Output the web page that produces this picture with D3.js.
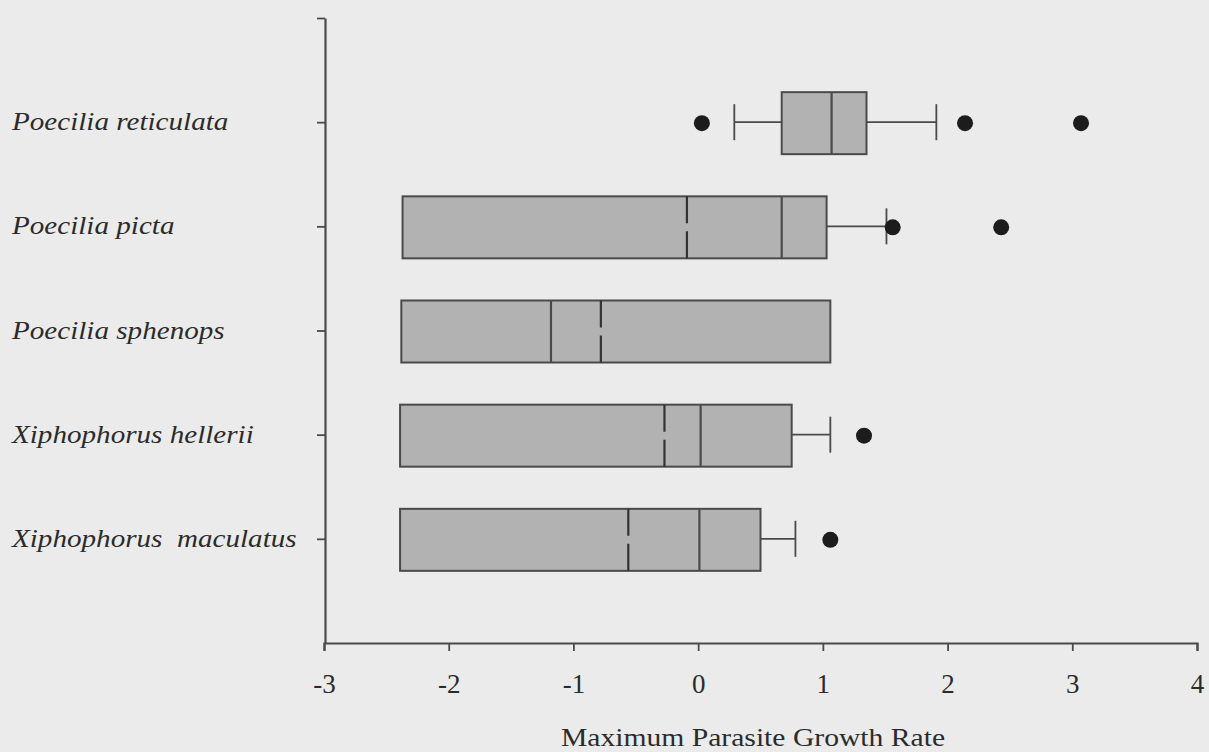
<!DOCTYPE html>
<html>
<head>
<meta charset="utf-8">
<script src="https://cdn.jsdelivr.net/npm/d3@7"></script>
<style>
  html, body { margin: 0; padding: 0; background: #ebebeb; }
  svg { display: block; }
  text { font-family: "Liberation Serif", "Times New Roman", serif; fill: #2b2b2b; }
</style>
</head>
<body>
<svg id="chart" width="1209" height="752"></svg>
<script>
// ---- data ----
const categories = ["Poecilia reticulata", "Poecilia picta", "Poecilia sphenops", "Xiphophorus hellerii", "Xiphophorus  maculatus"];
const q1          = [0.67, -2.37, -2.38, -2.39, -2.39];
const medians     = [1.07,  0.67, -1.18,  0.02,  0.01];
const q3          = [1.35,  1.03,  1.06,  0.75,  0.50];
const whiskerLow  = [0.29, -2.37, -2.38, -2.39, -2.39];
const whiskerHigh = [1.91,  1.51,  1.06,  1.06,  0.78];
const means       = [null, -0.09, -0.78, -0.27, -0.56];
const outliers    = [[0.03, 2.14, 3.07], [1.56, 2.43], [], [1.33], [1.06]];
const xTicks      = [-3, -2, -1, 0, 1, 2, 3, 4];
const xTitle      = "Maximum Parasite Growth Rate";

const rows = categories.map((c, i) => ({
  name: c, q1: q1[i], med: medians[i], q3: q3[i],
  lo: whiskerLow[i], hi: whiskerHigh[i], mean: means[i], out: outliers[i], pos: i + 1
}));

const svg = d3.select("#chart");
const x = d3.scaleLinear().domain([-3, 4]).range([324, 1197]);
const y = d3.scaleLinear().domain([0, 6]).range([18, 643]);

const boxH = 62, capH = 36;
const stroke = "#4a4a4a";

// axes
const xAxis = svg.append("g").attr("transform", `translate(0,${y(6)})`)
  .call(d3.axisBottom(x).tickValues(xTicks).tickSize(8).tickPadding(0).tickFormat(d => String(d)));
xAxis.select(".domain").attr("stroke", stroke).attr("stroke-width", 2.2);
xAxis.selectAll(".tick line").attr("stroke", stroke).attr("stroke-width", 1.8);
xAxis.selectAll(".tick text")
  .attr("y", 50).attr("dy", null)
  .attr("font-size", 27).attr("font-family", "Liberation Serif, serif").attr("fill", "#2b2b2b");

const yAxis = svg.append("g").attr("transform", `translate(${x(-3) + 1},0)`)
  .call(d3.axisLeft(y).tickValues([0, 1, 2, 3, 4, 5]).tickSize(8).tickSizeOuter(0).tickFormat(""));
yAxis.select(".domain").attr("stroke", stroke).attr("stroke-width", 2.2);
yAxis.selectAll(".tick line").attr("stroke", stroke).attr("stroke-width", 1.8);

// category labels (left aligned, italic)
svg.append("g").selectAll("text").data(rows).join("text")
  .attr("transform", d => `translate(12,${y(d.pos) + 8}) scale(1.12,1)`)
  .attr("font-size", 26).attr("font-style", "italic")
  .style("white-space", "pre")
  .text(d => d.name);

// x title
svg.append("text")
  .attr("transform", `translate(${(561 + 945) / 2},746) scale(1.14,1)`)
  .attr("text-anchor", "middle").attr("font-size", 26)
  .text(xTitle);

// boxes
const g = svg.append("g");
const rowG = g.selectAll("g.row").data(rows).join("g").attr("class", "row");

// whiskers
rowG.filter(d => d.lo < d.q1).append("line")
  .attr("x1", d => x(d.lo)).attr("x2", d => x(d.q1))
  .attr("y1", d => y(d.pos)).attr("y2", d => y(d.pos))
  .attr("stroke", stroke).attr("stroke-width", 1.6);
rowG.filter(d => d.lo < d.q1).append("line")
  .attr("x1", d => x(d.lo)).attr("x2", d => x(d.lo))
  .attr("y1", d => y(d.pos) - capH / 2).attr("y2", d => y(d.pos) + capH / 2)
  .attr("stroke", stroke).attr("stroke-width", 1.8);
rowG.filter(d => d.hi > d.q3).append("line")
  .attr("x1", d => x(d.q3)).attr("x2", d => x(d.hi))
  .attr("y1", d => y(d.pos)).attr("y2", d => y(d.pos))
  .attr("stroke", stroke).attr("stroke-width", 1.6);
rowG.filter(d => d.hi > d.q3).append("line")
  .attr("x1", d => x(d.hi)).attr("x2", d => x(d.hi))
  .attr("y1", d => y(d.pos) - capH / 2).attr("y2", d => y(d.pos) + capH / 2)
  .attr("stroke", stroke).attr("stroke-width", 1.8);

rowG.append("rect")
  .attr("x", d => x(d.q1)).attr("width", d => x(d.q3) - x(d.q1))
  .attr("y", d => y(d.pos) - boxH / 2 + 1).attr("height", boxH)
  .attr("fill", "#b2b2b2").attr("stroke", stroke).attr("stroke-width", 2);

rowG.append("line")
  .attr("x1", d => x(d.med)).attr("x2", d => x(d.med))
  .attr("y1", d => y(d.pos) - boxH / 2 + 1).attr("y2", d => y(d.pos) + boxH / 2 + 1)
  .attr("stroke", stroke).attr("stroke-width", 2.2);

rowG.filter(d => d.mean !== null).append("line")
  .attr("x1", d => x(d.mean)).attr("x2", d => x(d.mean))
  .attr("y1", d => y(d.pos) - boxH / 2 + 1).attr("y2", d => y(d.pos) + boxH / 2 + 1)
  .attr("stroke", "#333").attr("stroke-width", 2.2)
  .attr("stroke-dasharray", "27,8");

// outliers
rowG.selectAll("circle").data(d => d.out.map(v => ({ v, pos: d.pos }))).join("circle")
  .attr("cx", d => x(d.v)).attr("cy", d => y(d.pos) + 1).attr("r", 8)
  .attr("fill", "#1c1c1c");
</script>
</body>
</html>
